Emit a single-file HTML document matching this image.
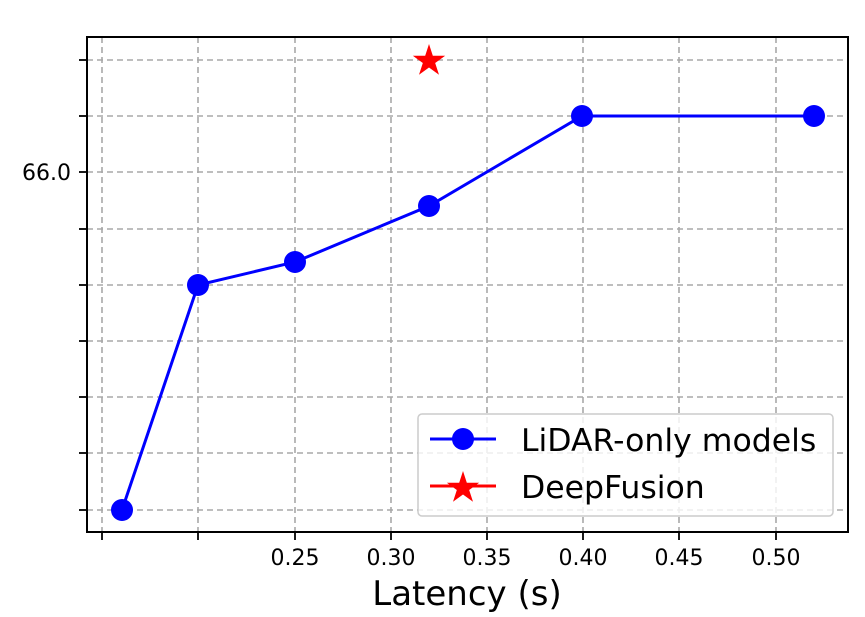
<!DOCTYPE html>
<html><head><style>html,body{margin:0;padding:0;background:#fff;}</style></head>
<body>
<svg width="865" height="612" xmlns="http://www.w3.org/2000/svg" font-family="DejaVu Sans, Liberation Sans, sans-serif">
<rect width="865" height="612" fill="#fff"/>
<g stroke="#a8a8a8" stroke-width="1.6" stroke-dasharray="6,4">
<line x1="102" y1="37" x2="102" y2="532"/><line x1="198" y1="37" x2="198" y2="532"/>
<line x1="295" y1="37" x2="295" y2="532"/><line x1="391" y1="37" x2="391" y2="532"/>
<line x1="487" y1="37" x2="487" y2="532"/><line x1="583" y1="37" x2="583" y2="532"/>
<line x1="679" y1="37" x2="679" y2="532"/><line x1="776" y1="37" x2="776" y2="532"/>
<line x1="87" y1="60" x2="848" y2="60"/><line x1="87" y1="116" x2="848" y2="116"/>
<line x1="87" y1="172" x2="848" y2="172"/><line x1="87" y1="229" x2="848" y2="229"/>
<line x1="87" y1="285" x2="848" y2="285"/><line x1="87" y1="341" x2="848" y2="341"/>
<line x1="87" y1="397" x2="848" y2="397"/><line x1="87" y1="453" x2="848" y2="453"/>
<line x1="87" y1="510" x2="848" y2="510"/>
</g>
<rect x="87" y="37" width="761" height="495" fill="none" stroke="#000" stroke-width="2"/>
<g stroke="#000" stroke-width="1.8">
<line x1="79" y1="60" x2="87" y2="60"/><line x1="79" y1="116" x2="87" y2="116"/>
<line x1="79" y1="172" x2="87" y2="172"/><line x1="79" y1="229" x2="87" y2="229"/>
<line x1="79" y1="285" x2="87" y2="285"/><line x1="79" y1="341" x2="87" y2="341"/>
<line x1="79" y1="397" x2="87" y2="397"/><line x1="79" y1="453" x2="87" y2="453"/>
<line x1="79" y1="510" x2="87" y2="510"/>
<line x1="102" y1="532" x2="102" y2="540"/><line x1="198" y1="532" x2="198" y2="540"/>
<line x1="295" y1="532" x2="295" y2="540"/><line x1="391" y1="532" x2="391" y2="540"/>
<line x1="487" y1="532" x2="487" y2="540"/><line x1="583" y1="532" x2="583" y2="540"/>
<line x1="679" y1="532" x2="679" y2="540"/><line x1="776" y1="532" x2="776" y2="540"/>
</g>
<text x="71" y="180" font-size="22" text-anchor="end">66.0</text>
<g font-size="22" text-anchor="middle">
<text x="295" y="565">0.25</text><text x="391" y="565">0.30</text><text x="487" y="565">0.35</text>
<text x="583" y="565">0.40</text><text x="679" y="565">0.45</text><text x="776" y="565">0.50</text>
</g>
<text x="467" y="605" font-size="34" text-anchor="middle">Latency (s)</text>
<polyline points="122,510 198,285 295,262 429,206 582,116 814,116" fill="none" stroke="#0000ff" stroke-width="3"/>
<g fill="#0000ff">
<circle cx="122" cy="510" r="11"/><circle cx="198" cy="285" r="11"/><circle cx="295" cy="262" r="11"/>
<circle cx="429" cy="206" r="11"/><circle cx="582" cy="116" r="11"/><circle cx="814" cy="116" r="11"/>
</g>
<polygon fill="#ff0000" transform="translate(429,61) scale(17)" points="0,-1 0.2245,-0.309 0.951,-0.309 0.363,0.118 0.588,0.809 0,0.382 -0.588,0.809 -0.363,0.118 -0.951,-0.309 -0.2245,-0.309"/>
<rect x="418" y="414" width="415" height="102" rx="4" fill="#fff" fill-opacity="0.8" stroke="#ccc" stroke-width="1.5"/>
<line x1="430" y1="439" x2="496" y2="439" stroke="#0000ff" stroke-width="3"/>
<circle cx="463" cy="439" r="11" fill="#0000ff"/>
<line x1="430" y1="486" x2="496" y2="486" stroke="#ff0000" stroke-width="3"/>
<polygon fill="#ff0000" transform="translate(463,488) scale(17)" points="0,-1 0.2245,-0.309 0.951,-0.309 0.363,0.118 0.588,0.809 0,0.382 -0.588,0.809 -0.363,0.118 -0.951,-0.309 -0.2245,-0.309"/>
<text x="521" y="451" font-size="31.5">LiDAR-only models</text>
<text x="521" y="498" font-size="31.5">DeepFusion</text>
</svg>
</body></html>
